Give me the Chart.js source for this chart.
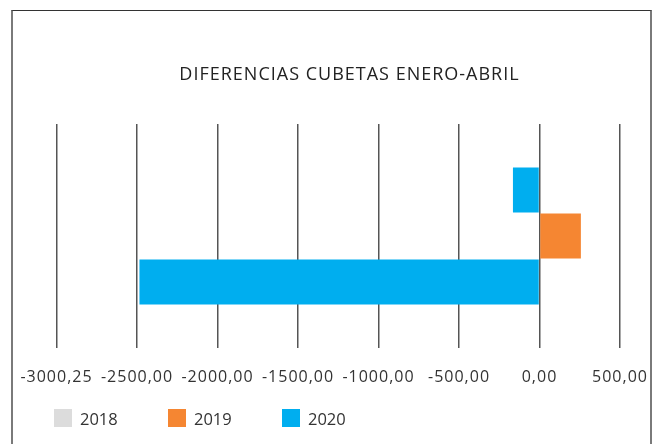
<!DOCTYPE html>
<html>
<head>
<meta charset="utf-8">
<script src="https://cdn.jsdelivr.net/npm/chart.js@4.4.0/dist/chart.umd.min.js"></script>
<style>
  html, body { margin: 0; padding: 0; background: #fff; overflow: hidden; }
  #wrap { position: relative; width: 657px; height: 444px; }
  #frame { position: absolute; left: 11px; top: 10px; width: 637px; height: 470px;
           border: 2px solid #7a7a7a; border-top: 1.5px solid #333; pointer-events: none; }
  canvas { position: absolute; left: 0; top: 0; }
  #legend { position: absolute; left: 54px; top: 409px; margin: 0; padding: 0; list-style: none;
            font-family: "Open Sans", "Noto Sans", sans-serif; font-size: 16.5px; color: #333; }
  #legend li { display: inline-flex; align-items: center; width: 114px; height: 18px; }
  #legend span.box { display: inline-block; width: 18px; height: 18px; margin-right: 8px; }
</style>
</head>
<body>
<div id="wrap">
  <canvas id="cubetasChart" width="657" height="444"></canvas>
  <ul id="legend"></ul>
  <div id="frame"></div>
</div>
<script>
// datos (barras de arriba hacia abajo)
const categories = [''];
const values2020 = [-165];
const values2019 = [257];
const values2018 = [-2485];
const tickValues = [-3000.25, -2500, -2000, -1500, -1000, -500, 0, 500];
const legendNames = ['2018', '2019', '2020'];
const legendColors = ['#dcdcdc', '#f58632', '#00aeef'];

const FONT = '"Open Sans", "Noto Sans", sans-serif';

function formatTick(v) {
    return Number(v).toFixed(2).replace('.', ',');
}

// leyenda en html
const legendEl = document.getElementById('legend');
legendNames.forEach((name, i) => {
    const li = document.createElement('li');
    const box = document.createElement('span');
    box.className = 'box';
    box.style.background = legendColors[i];
    li.appendChild(box);
    li.appendChild(document.createTextNode(name));
    legendEl.appendChild(li);
});

const spacing = {
    id: 'spacing',
    beforeDraw: chart => { chart.ctx.letterSpacing = '1px'; }
};

const ctx = document.getElementById('cubetasChart').getContext('2d');
new Chart(ctx, {
    type: 'bar',
    data: {
        labels: categories,
        datasets: [
            { label: '2020', data: values2020, backgroundColor: '#00aeef' },
            { label: '2019', data: values2019, backgroundColor: '#f58632' },
            { label: '2018', data: values2018, backgroundColor: '#00aeef' }
        ]
    },
    options: {
        indexAxis: 'y',
        responsive: false,
        animation: false,
        devicePixelRatio: 1,
        categoryPercentage: 0.615,
        barPercentage: 0.98,
        layout: { padding: { left: 42, right: 0, top: 0, bottom: 36.8 } },
        scales: {
            x: {
                type: 'linear',
                min: -3000.25,
                max: 500,
                afterBuildTicks: axis => { axis.ticks = tickValues.map(v => ({ value: v })); },
                afterFit: axis => { axis.paddingLeft = 0; axis.paddingRight = 0; },
                grid: { color: '#555', lineWidth: 1.5, drawTicks: false },
                border: { display: false },
                ticks: {
                    padding: 20,
                    color: '#333',
                    font: { family: FONT, size: 16 },
                    maxRotation: 0,
                    autoSkip: false,
                    callback: v => formatTick(v)
                }
            },
            y: {
                type: 'category',
                position: 'left',
                afterFit: axis => { axis.width = 14.5; },
                grid: { display: false },
                border: { display: false },
                ticks: { display: false }
            },
            y2: {
                type: 'category',
                position: 'right',
                afterFit: axis => { axis.width = 37; },
                grid: { display: false },
                border: { display: false },
                ticks: { display: false }
            }
        },
        plugins: {
            title: {
                display: true,
                text: 'DIFERENCIAS CUBETAS ENERO-ABRIL',
                color: '#222',
                font: { family: FONT, size: 18, weight: 'normal' },
                padding: { top: 64, bottom: 38.4 }
            },
            legend: { display: false },
            tooltip: { enabled: false }
        }
    },
    plugins: [spacing]
});
</script>
</body>
</html>
